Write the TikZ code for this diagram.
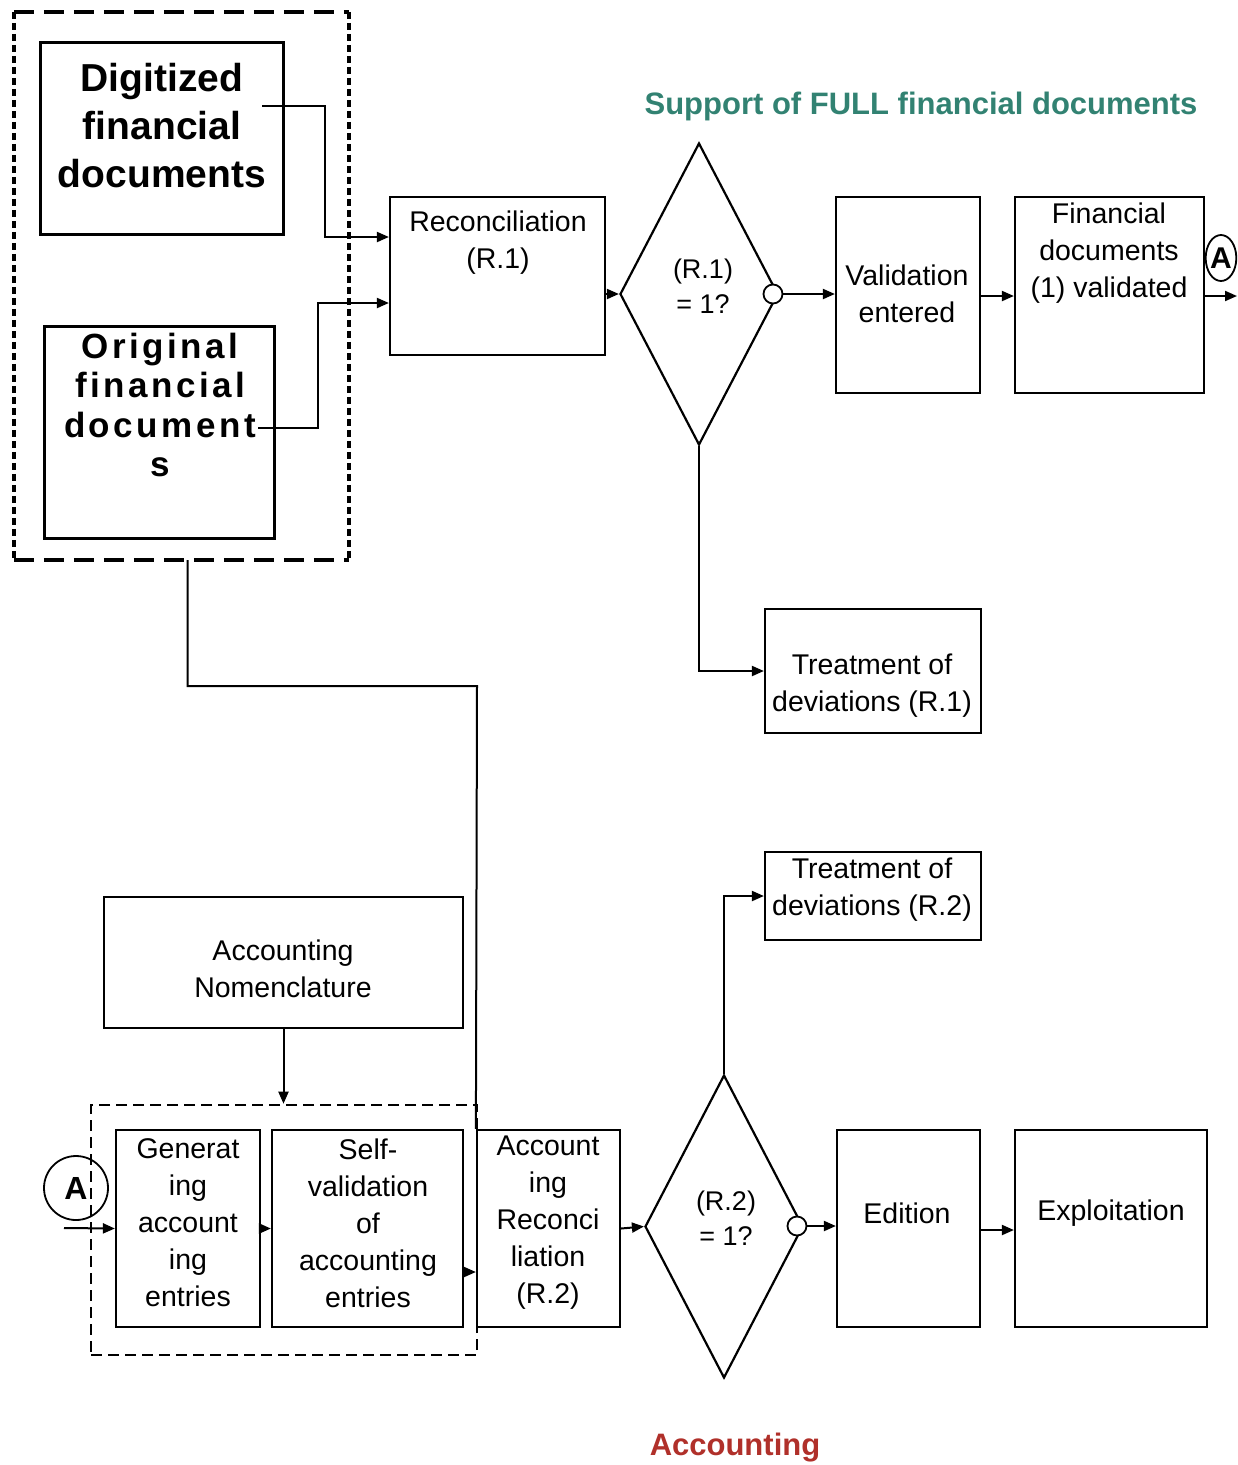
\documentclass[tikz,border=0pt]{standalone}
\usepackage{fontspec}
\setmainfont{Liberation Sans}
\usetikzlibrary{shapes.geometric,arrows.meta}
\definecolor{supteal}{RGB}{50,130,114}
\definecolor{accred}{RGB}{176,48,42}

\begin{document}
\begin{tikzpicture}[x=1pt,y=-1pt,
        box/.style={draw,line width=2.2pt,inner sep=0pt},
        bigbox/.style={draw,line width=3pt,inner sep=0pt},
        txt/.style={font=\fontsize{28.5}{37}\selectfont,align=center,inner sep=0pt},
        dtxt/.style={font=\fontsize{27}{35}\selectfont,align=center,inner sep=0pt},
        decision/.style={diamond,draw,line width=2.2pt,inner sep=0pt},
        port/.style={circle,draw,fill=white,line width=1.8pt,minimum size=19pt,inner sep=0pt},
        conn/.style={line width=2pt},
        arr/.style={conn,-{Triangle[length=12pt,width=10pt]}},
    ]
        \useasboundingbox (0,0) rectangle (1238,1465);
        % source documents
        \node[minimum width=335pt,minimum height=548pt,inner sep=0pt] (src) at (181.5,286) {};
        \draw[line width=3.5pt,dash pattern=on 20pt off 10pt] (src.north west) -- (src.north east) (src.south west) -- (src.south east);
        \draw[line width=3.5pt,dash pattern=on 7pt off 4pt] (src.north west) -- (src.south west) (src.north east) -- (src.south east);
        \node[bigbox,minimum width=243pt,minimum height=192pt] (dig) at (161.5,138) {};
        \node[font=\fontsize{39}{48}\selectfont\bfseries,align=center,inner sep=0pt] (dig-t) at (162,126) {Digitized\\financial\\documents};
        \node[bigbox,minimum width=230pt,minimum height=212pt] (orig) at (159,432) {};
        \node[font=\fontsize{35}{39.5}\selectfont\bfseries\addfontfeature{LetterSpace=10},align=center,inner sep=0pt] (orig-t) at (160,405) {Original\\financial\\document\\s};
        \node[supteal,font=\fontsize{31}{36}\selectfont\bfseries,inner sep=0pt] (title1) at (921,106) {Support of FULL financial documents};
        % first line
        \node[box,minimum width=215pt,minimum height=158pt] (reconc) at (497.5,276) {};
        \node[txt] (reconc-t) at (498,243) {Reconciliation\\(R.1)};
        \node[decision,minimum width=158pt,minimum height=302pt] (d1) at (699,294) {};
        \node[dtxt] (d1-t) at (703,286) {(R.1)\\= 1?};
        \node[port] (c1) at (773,294) {};
        \node[box,minimum width=144pt,minimum height=196pt] (valid) at (908,295) {};
        \node[txt] (valid-t) at (907,294) {Validation\\entered};
        \node[box,minimum width=189pt,minimum height=196pt] (fin) at (1109.5,295) {};
        \node[txt] (fin-t) at (1109,253) {Financial\\documents\\(1) validated};
        \node[ellipse,draw,line width=1.8pt,minimum width=28pt,minimum height=46pt,inner sep=0pt,font=\fontsize{30}{30}\selectfont\bfseries] (a1) at (1221,258) {A};
        \coordinate (aout) at (1237,296);
        \node[box,minimum width=216pt,minimum height=124pt] (treat1) at (873,671) {};
        \node[txt] (treat1-t) at (872,686) {Treatment of\\deviations (R.1)};
        \coordinate (dout) at (262,106);
        \coordinate (oout) at (258,428);
        \draw[arr] (dout) -- (325,106) |- (reconc.west |- 0,237);
        \draw[arr] (oout) -| (318,303) -- (reconc.west |- 0,303);
        \draw[arr] (reconc.east |- d1.west) -- (d1.west);
        \draw[arr] (c1.east) -- (c1.east -| valid.west);
        \draw[arr] (valid.east |- 0,296) -- (fin.west |- 0,296);
        \draw[arr] (fin.east |- 0,296) -- (aout);
        \draw[arr] (d1.south) |- (treat1.west);
        % accounting line
        \node[box,minimum width=359pt,minimum height=131pt] (nomen) at (283.5,962.5) {};
        \node[txt] (nomen-t) at (283,969) {Accounting\\Nomenclature};
        \node[draw,line width=2.6pt,dash pattern=on 11pt off 6pt,minimum width=386pt,minimum height=250pt,inner sep=0pt] (grp) at (284,1230) {};
        \node[box,minimum width=144pt,minimum height=197pt] (gen) at (188,1228.5) {};
        \node[txt] (gen-t) at (188,1223) {Generat\\ing\\account\\ing\\entries};
        \node[box,minimum width=191pt,minimum height=197pt] (self) at (367.5,1228.5) {};
        \node[txt] (self-t) at (368,1223) {Self-\\validation\\of\\accounting\\entries};
        \node[box,minimum width=143pt,minimum height=197pt] (accrec) at (548.5,1228.5) {};
        \node[txt] (accrec-t) at (548,1223) {Account\\ing\\Reconci\\liation\\(R.2)};
        \node[decision,minimum width=158pt,minimum height=303pt] (d2) at (724,1226.5) {};
        \node[dtxt] (d2-t) at (726,1218) {(R.2)\\= 1?};
        \node[port] (c2) at (797,1226) {};
        \node[box,minimum width=143pt,minimum height=197pt] (edit) at (908.5,1228.5) {};
        \node[txt] (edit-t) at (907,1213) {Edition};
        \node[box,minimum width=192pt,minimum height=197pt] (expl) at (1111,1228.5) {};
        \node[txt] (expl-t) at (1111,1213) {Exploitation};
        \node[box,minimum width=216pt,minimum height=88pt] (treat2) at (873,896) {};
        \node[txt] (treat2-t) at (872,890) {Treatment of\\deviations (R.2)};
        \node[circle,draw,line width=1.8pt,minimum size=64pt,inner sep=0pt,font=\fontsize{32}{32}\selectfont\bfseries] (a2) at (76,1188) {A};
        \node[accred,font=\fontsize{31}{36}\selectfont\bfseries,inner sep=0pt] (title2) at (735,1448) {Accounting};
        \coordinate (ain) at (64,1228);
        \coordinate (bend) at (477,686);
        \draw[conn] ([xshift=6pt]src.south) |- (bend) -- (accrec.north west);
        \draw[arr] (nomen.south) -- (nomen.south |- grp.north);
        \draw[arr] (ain) -- (gen.west);
        \draw[arr] (gen.east) -- (self.west);
        \draw[arr] (self.east |- 0,1272) -- (accrec.west |- 0,1272);
        \draw[arr] (accrec.east) -- (d2.west);
        \draw[arr] (c2.east) -- (c2.east -| edit.west);
        \draw[arr] (edit.east |- 0,1230) -- (expl.west |- 0,1230);
        \draw[arr] (d2.north) |- (treat2.west);
    \end{tikzpicture}
\end{document}
